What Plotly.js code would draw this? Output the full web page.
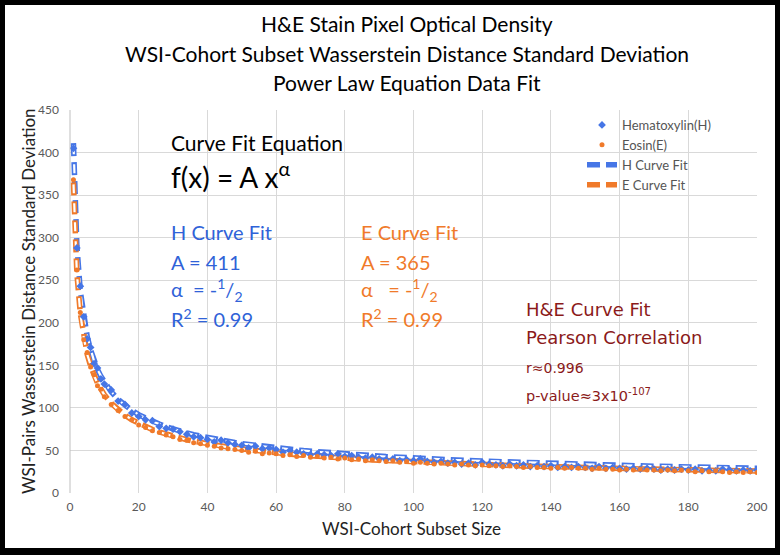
<!DOCTYPE html>
<html><head><meta charset="utf-8">
<script src="https://cdn.plot.ly/plotly-3.0.1.min.js"></script>
<style>
html,body{margin:0;padding:0;background:#000;}
#wrap{position:absolute;left:0;top:0;width:780px;height:555px;background:#000;}
#chart{position:absolute;left:5px;top:5px;width:770px;height:543px;background:#fff;}
</style></head>
<body><div id="wrap"><div id="chart"></div></div>
<script>
// ---- data ----
const subsetSize = [1,2,3,4,5,6,7,8,9,10,
 12,14,16,18,20,22,24,26,28,30,32,34,36,38,40,42,44,46,48,50,
 52,54,56,58,60,62,64,66,68,70,72,74,76,78,80,82,84,86,88,90,
 92,94,96,98,100,102,104,106,108,110,112,114,116,118,120,122,124,126,128,130,
 132,134,136,138,140,142,144,146,148,150,152,154,156,158,160,162,164,166,168,170,
 172,174,176,178,180,182,184,186,188,190,192,194,196,198,200];

const hematoxylinSD = [405,288,243,207,181,171,152,147,134,128,
 121,108,104,94,90,86,85,78,76,75,72,69,66,65,63,60,62,59,57,56,
 53,55,52,53,51,48,50,48,46,45,46,45,44,46,43,44,42,41,42,40,
 39,40,38,39,38,40,37,36,37,35,36,34,35,33,36,34,33,32,34,32,
 33,31,32,31,32,30,31,30,31,30,29,31,29,30,29,28,29,28,29,28,
 27,28,27,28,27,28,26,27,26,28,27,26,27,26,27];

const eosinSD = [368,262,212,180,165,148,139,126,122,113,
 104,97,90,86,80,77,73,71,68,66,63,62,59,58,56,55,53,52,51,50,
 48,49,46,47,46,44,45,43,44,42,43,41,42,40,41,39,40,38,39,38,
 37,38,36,37,35,36,35,34,35,34,33,34,33,32,33,32,32,31,32,31,
 30,31,30,30,29,30,29,30,29,29,28,29,28,28,27,28,27,28,27,27,
 26,27,26,27,26,25,26,25,26,25,24,25,24,25,24];

const hFit = [411,291,237,206,184,168,155,145,137,130,
 119,110,103,97,92,88,84,81,78,75,73,70.5,68.5,66.7,65,63.4,62,60.6,59.3,58.1,
 57,55.9,54.9,54,53.1,52.2,51.4,50.6,49.8,49.1,48.4,47.8,47.1,46.5,46,45.4,44.8,44.3,43.8,43.3,
 42.8,42.4,41.9,41.5,41.1,40.7,40.3,39.9,39.5,39.2,38.8,38.5,38.2,37.8,37.5,37.2,36.9,36.6,36.3,36,
 35.8,35.5,35.2,35,34.7,34.5,34.3,34,33.8,33.6,33.3,33.1,32.9,32.7,32.5,32.3,32.1,31.9,31.7,31.5,
 31.3,31.2,31,30.8,30.6,30.5,30.3,30.1,30,29.8,29.7,29.5,29.4,29.2,29.1];

const eFit = [365,258,211,182.5,163,149,138,129,122,115.4,
 105.4,97.5,91.3,86,81.6,77.8,74.5,71.6,69,66.6,64.5,62.6,60.8,59.2,57.7,56.3,55,53.8,52.7,51.6,
 50.6,49.7,48.8,47.9,47.1,46.4,45.6,44.9,44.3,43.6,43,42.4,41.9,41.3,40.8,40.3,39.8,39.4,38.9,38.5,
 38.1,37.6,37.3,36.9,36.5,36.1,35.8,35.4,35.1,34.8,34.5,34.2,33.9,33.6,33.3,33,32.8,32.5,32.3,32,
 31.8,31.5,31.3,31.1,30.8,30.6,30.4,30.2,30,29.8,29.6,29.4,29.2,29,28.9,28.7,28.5,28.3,28.2,28,
 27.8,27.7,27.5,27.4,27.2,27.1,26.9,26.8,26.7,26.5,26.3,26.2,26.1,25.9,25.8];

const seriesNames = ["Hematoxylin(H)","Eosin(E)","H Curve Fit","E Curve Fit"];
const xTicks = [0,20,40,60,80,100,120,140,160,180,200];
const yTicks = [0,50,100,150,200,250,300,350,400,450];

// ---- style ----
const BLUE = "#4676e6", ORANGE = "#f07a2a", DARKRED = "#8b1a1a";
const BLUE_TXT = "#2f62d8", ORANGE_TXT = "#f07a2a";
const FONT = "Lato, 'Open Sans', sans-serif";
const FONT2 = "'DejaVu Sans', Verdana, sans-serif";

// page-pixel -> paper helpers (plot area: x 70..757, y 110..493 in page px)
const PL = 70, PR = 757, PT = 110, PB = 493;
const px = v => (v - PL) / (PR - PL);
const py = v => (PB - v) / (PB - PT);

const outerDash = "13px,6px";
const innerDash = "0px,2px,9px,8px";

const traces = [
  {x: subsetSize, y: hFit, mode: "lines", name: seriesNames[2],
   line: {color: BLUE, width: 5.5, dash: outerDash}, legendrank: 3},
  {x: subsetSize, y: hFit, mode: "lines", showlegend: false, hoverinfo: "skip",
   line: {color: "#fff", width: 2.2, dash: innerDash}},
  {x: subsetSize, y: eFit, mode: "lines", name: seriesNames[3],
   line: {color: ORANGE, width: 5.5, dash: outerDash}, legendrank: 4},
  {x: subsetSize, y: eFit, mode: "lines", showlegend: false, hoverinfo: "skip",
   line: {color: "#fff", width: 2.2, dash: innerDash}},
  {x: subsetSize, y: hematoxylinSD, mode: "markers", name: seriesNames[0],
   marker: {color: BLUE, size: 6, symbol: "diamond"}, legendrank: 1},
  {x: subsetSize, y: eosinSD, mode: "markers", name: seriesNames[1],
   marker: {color: ORANGE, size: 5, symbol: "circle"}, legendrank: 2}
];

function ann(text, x, y, size, color, family, extra) {
  return Object.assign({text: text, xref: "paper", yref: "paper", x: px(x), y: py(y),
    xanchor: "left", yanchor: "middle", showarrow: false,
    font: {size: size, color: color, family: family || FONT}}, extra || {});
}

const annotations = [
  ann("H&amp;E Stain Pixel Optical Density", 407, 23, 21, "#000", FONT, {xanchor: "center"}),
  ann("WSI-Cohort Subset Wasserstein Distance Standard Deviation", 407, 53, 21, "#000", FONT, {xanchor: "center"}),
  ann("Power Law Equation Data Fit", 407, 82, 21, "#000", FONT, {xanchor: "center"}),
  ann("WSI-Cohort Subset Size", 411, 528, 17, "#222", FONT, {xanchor: "center"}),
  ann("WSI-Pairs Wasserstein Distance Standard Deviation", 28, 301, 17, "#222", FONT, {xanchor: "center", textangle: -90}),
  ann("Curve Fit Equation", 169, 142, 21, "#000"),
  ann("f(x) = A x<sup>α</sup>", 169, 175, 28, "#000"),
  ann("H Curve Fit", 169, 232, 20, BLUE_TXT),
  ann("A = 411", 169, 262, 20, BLUE_TXT),
  ann("α  = -<sup>1</sup>/<sub>2</sub>", 169, 290, 20, BLUE_TXT),
  ann("R<sup>2</sup> = 0.99", 169, 318, 20, BLUE_TXT),
  ann("E Curve Fit", 359, 232, 20, ORANGE_TXT),
  ann("A = 365", 359, 262, 20, ORANGE_TXT),
  ann("α   = -<sup>1</sup>/<sub>2</sub>", 359, 290, 20, ORANGE_TXT),
  ann("R<sup>2</sup> = 0.99", 359, 318, 20, ORANGE_TXT),
  ann("H&amp;E Curve Fit", 524, 309, 18, DARKRED, FONT2),
  ann("Pearson Correlation", 524, 337, 18, DARKRED, FONT2),
  ann("r≈0.996", 524, 368, 14, DARKRED, FONT2),
  ann("p-value≈3x10<sup>-107</sup>", 524, 395, 14.5, DARKRED, FONT2)
];

const layout = {
  width: 770, height: 543,
  margin: {l: PL - 5, r: 775 - PR, t: PT - 5, b: 548 - PB, pad: 0},
  paper_bgcolor: "#fff", plot_bgcolor: "#fff",
  showlegend: true,
  legend: {x: px(582), y: py(110), xanchor: "left", yanchor: "top",
    font: {family: FONT, size: 13, color: "#555"}, bgcolor: "rgba(0,0,0,0)",
    tracegroupgap: 0, itemwidth: 30},
  xaxis: {range: [0, 200], tickvals: xTicks, ticktext: xTicks.map(String),
    showgrid: true, gridcolor: "#d9d9d9", gridwidth: 1, zeroline: false,
    showline: false, ticks: "", ticklabelstandoff: 5,
    tickfont: {family: FONT, size: 12, color: "#595959"}},
  yaxis: {range: [0, 450], tickvals: yTicks, ticktext: yTicks.map(String),
    showgrid: true, gridcolor: "#d9d9d9", gridwidth: 1, zeroline: false,
    showline: false, ticks: "", ticklabelstandoff: 10,
    tickfont: {family: FONT, size: 12, color: "#595959"}},
  annotations: annotations,
  shapes: [{type: "line", xref: "paper", yref: "paper", x0: 0, x1: 0, y0: 0, y1: 1,
    line: {color: "#bfbfbf", width: 1}}]
};

Plotly.newPlot("chart", traces, layout, {displayModeBar: false, staticPlot: true});
</script></body></html>
